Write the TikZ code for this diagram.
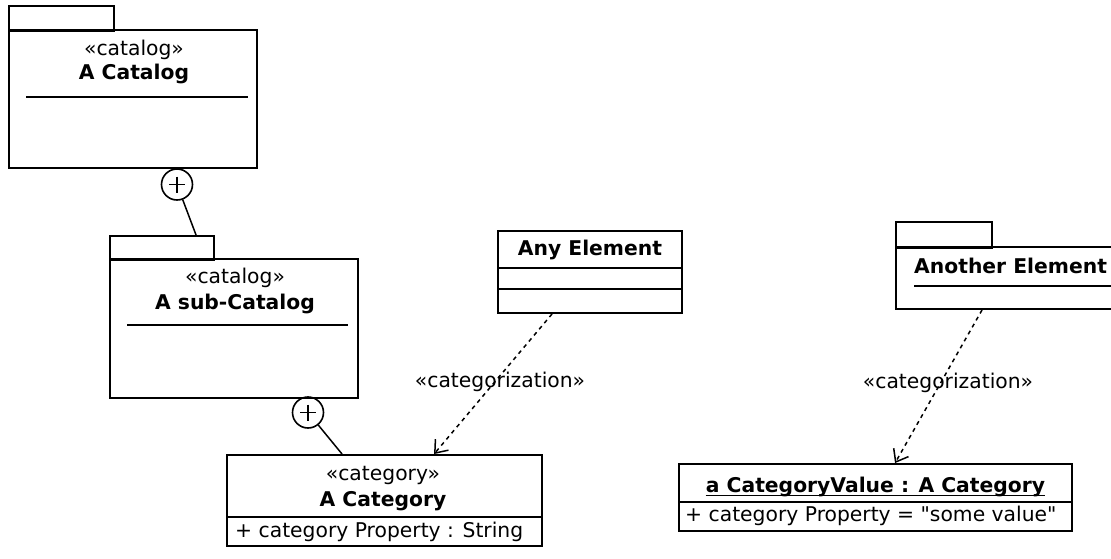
\documentclass[tikz,border=0pt]{standalone}
\usepackage{fontspec}
\setmainfont{DejaVu Sans}[Ligatures=TeXOff]
\usetikzlibrary{arrows.meta,calc}
\begin{document}
\begin{tikzpicture}[x=1pt,y=-1pt,
  every node/.style={inner sep=0pt},
  box/.style={draw, line width=1.9pt, rectangle, inner sep=0pt},
  sepline/.style={line width=1.9pt},
  tabline/.style={line width=2.8pt},
  plusnode/.style={draw, circle, line width=1.6pt, minimum size=31pt, inner sep=0pt},
  contain/.style={line width=1.5pt},
  dep/.style={line width=1.5pt, dash pattern=on 4pt off 4pt,
    -{Straight Barb[length=11pt,width=17pt,line width=1.5pt]}},
  st/.style={font=\fontsize{20.3}{24}\selectfont},
  nm/.style={font=\fontsize{20.3}{24}\selectfont\bfseries},
]
\useasboundingbox (0,0) rectangle (1111,559);
\fill[white] (0,0) rectangle (1111,559);
\clip (0,0) rectangle (1111,559);

% A Catalog package
\node[box, minimum width=248pt, minimum height=138pt] (cat) at (133,99) {};
\node[box, minimum width=105pt, minimum height=24pt] (cattab) at (61.5,18) {};
\draw[tabline] (cattab.south west) -- (cattab.south east);
\node[st] (catst) at (134,50) {«catalog»};
\node[nm] (catnm) at (134,74) {A Catalog};
\draw[sepline] ($(cat.north west)+(18,68)$) -- ($(cat.north east)+(-10,68)$);

% A sub-Catalog package
\node[box, minimum width=248pt, minimum height=139pt] (sub) at (234,328.5) {};
\node[box, minimum width=104pt, minimum height=23pt] (subtab) at (162,247.5) {};
\draw[tabline] (subtab.south west) -- (subtab.south east);
\node[st] (subst) at (235,278) {«catalog»};
\node[nm] (subnm) at (235,304) {A sub-Catalog};
\draw[sepline] ($(sub.north west)+(18,67)$) -- ($(sub.north east)+(-11,67)$);

% containment 1
\node[plusnode] (p1) at (177,184.5) {};
\draw[line width=1.6pt] ($(p1.center)+(-8,0)$) -- ($(p1.center)+(8,0)$);
\draw[line width=1.6pt] ($(p1.center)+(0,-8)$) -- ($(p1.center)+(0,8)$);
\coordinate (c1) at ($(subtab.north west)+(87,0)$);
\draw[contain] (p1) -- (c1);

% A Category class
\node[box, minimum width=315pt, minimum height=91pt] (catg) at (384.5,500.5) {};
\node[st] (catgst) at (383,475) {«category»};
\node[nm] (catgnm) at (383,501) {A Category};
\draw[sepline] ($(catg.north west)+(0,63)$) -- ($(catg.north east)+(0,63)$);
\node[st, anchor=west] (catgattr) at (235,532) {+ category Property : String};

% containment 2
\node[plusnode] (p2) at (308,412.5) {};
\draw[line width=1.6pt] ($(p2.center)+(-8,0)$) -- ($(p2.center)+(8,0)$);
\draw[line width=1.6pt] ($(p2.center)+(0,-8)$) -- ($(p2.center)+(0,8)$);
\coordinate (c2) at ($(catg.north west)+(116,0)$);
\draw[contain] (p2) -- (c2);

% Any Element class
\node[box, minimum width=184pt, minimum height=82pt] (any) at (590,272) {};
\node[nm] (anynm) at (590,250) {Any Element};
\draw[sepline] ($(any.north west)+(0,38)$) -- ($(any.north east)+(0,38)$);
\draw[sepline] ($(any.north west)+(0,59)$) -- ($(any.north east)+(0,59)$);

% dependency 1
\coordinate (d1s) at ($(any.south west)+(55,0)$);
\coordinate (d1e) at ($(catg.north west)+(208,0)$);
\draw[dep] (d1s) -- (d1e);
\node[st] (lab1) at (500,382) {«categorization»};

% Another Element package
\node[box, minimum width=224pt, minimum height=62pt] (ano) at (1008,278) {};
\node[box, minimum width=96pt, minimum height=25pt] (anotab) at (944,234.5) {};
\draw[tabline] (anotab.south west) -- (anotab.south east);
\node[nm, anchor=west] (anonm) at (914,266) {Another Element};
\draw[sepline] ($(ano.north west)+(19,40)$) -- ($(ano.north east)+(0,40)$);

% a CategoryValue object
\node[box, minimum width=393pt, minimum height=67pt] (obj) at (875.5,497.5) {};
\node[nm, anchor=base] (objnm) at (875.5,492) {a CategoryValue : A Category};
\draw[line width=1.6pt] ($(objnm.base west)+(0,3.5)$) -- ($(objnm.base east)+(0,3.5)$);
\draw[sepline] ($(obj.north west)+(0,39)$) -- ($(obj.north east)+(0,39)$);
\node[st, anchor=west] (objattr) at (685,516) {+ category Property = "some value"};

% dependency 2
\coordinate (d2s) at ($(ano.south west)+(87,0)$);
\coordinate (d2e) at ($(obj.north west)+(217,0)$);
\draw[dep] (d2s) -- (d2e);
\node[st] (lab2) at (948,383) {«categorization»};
\end{tikzpicture}
\end{document}
